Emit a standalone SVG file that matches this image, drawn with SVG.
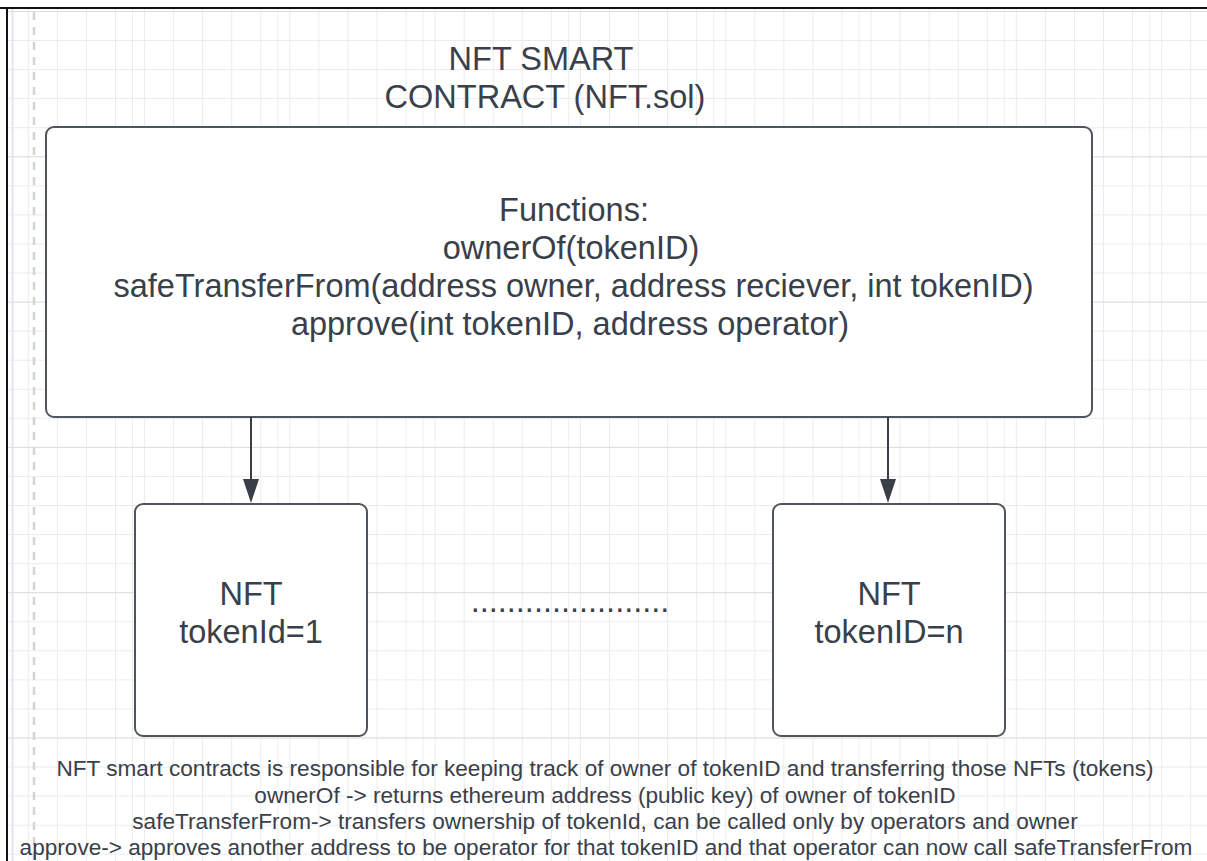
<svg xmlns="http://www.w3.org/2000/svg" width="1207" height="861" viewBox="0 0 1207 861">
<defs>
<pattern id="grid" x="-1.25" y="11" width="29.06" height="29.06" patternUnits="userSpaceOnUse">
<path d="M0.5 0V29.06M0 0.5H29.06" fill="none" stroke="#ebebeb" stroke-width="1"/>
</pattern>
<pattern id="grid5" x="-12.3" y="11" width="145.3" height="145.3" patternUnits="userSpaceOnUse">
<path d="M145.3 0V145.3M0 0.5H145.3" fill="none" stroke="#dedede" stroke-width="1"/>
</pattern>
<style>
.t{font-family:"Liberation Sans",Arial,sans-serif;fill:#3a4049;text-anchor:middle}
.big{font-size:32.5px}
.small{font-size:22.6px}
.box{fill:#ffffff;stroke:#50555d;stroke-width:2}
.conn{stroke:#3a3f47;stroke-width:2;fill:none}
.head{fill:#3a3f47}
</style>
</defs>
<rect width="1207" height="861" fill="#ffffff"/>
<rect x="8" y="9" width="1199" height="852" fill="url(#grid)"/>
<rect x="8" y="9" width="1199" height="852" fill="url(#grid5)"/>
<line x1="12.5" y1="9" x2="12.5" y2="861" stroke="#e2e6ec" stroke-width="2"/>
<line x1="34" y1="12" x2="34" y2="861" stroke="#d3d3d3" stroke-width="2.5" stroke-dasharray="8 7"/>
<line x1="0" y1="8" x2="1207" y2="8" stroke="#111111" stroke-width="2"/>
<line x1="7" y1="8" x2="7" y2="861" stroke="#111111" stroke-width="2"/>

<g id="title">
<text class="t big" x="541" y="70">NFT SMART</text>
<text class="t big" x="545" y="108">CONTRACT (NFT.sol)</text>
</g>

<g id="contract">
<rect class="box" x="46" y="127" width="1046" height="290" rx="8"/>
<text class="t big" x="574" y="221">Functions:</text>
<text class="t big" x="571" y="259">ownerOf(tokenID)</text>
<text class="t big" x="573.5" y="297">safeTransferFrom(address owner, address reciever, int tokenID)</text>
<text class="t big" x="570" y="335">approve(int tokenID, address operator)</text>
</g>

<g id="connectors">
<line class="conn" x1="251" y1="417" x2="251" y2="482"/>
<path class="head" d="M243 479L259 479L251 503Z"/>
<line class="conn" x1="888" y1="417" x2="888" y2="482"/>
<path class="head" d="M880 479L896 479L888 503Z"/>
</g>

<g id="nft1">
<rect class="box" x="135" y="504" width="232" height="232" rx="8"/>
<text class="t big" x="251" y="605">NFT</text>
<text class="t big" x="251" y="643">tokenId=1</text>
</g>

<g id="dots">
<text class="t big" x="570" y="612">......................</text>
</g>

<g id="nftn">
<rect class="box" x="773" y="504" width="232" height="232" rx="8"/>
<text class="t big" x="889" y="605">NFT</text>
<text class="t big" x="889" y="643">tokenID=n</text>
</g>

<g id="notes">
<text class="t small" x="605" y="776">NFT smart contracts is responsible for keeping track of owner of tokenID and transferring those NFTs (tokens)</text>
<text class="t small" x="605" y="802.5">ownerOf -&gt; returns ethereum address (public key) of owner of tokenID</text>
<text class="t small" x="605" y="829">safeTransferFrom-&gt; transfers ownership of tokenId, can be called only by operators and owner</text>
<text class="t small" x="606" y="855">approve-&gt; approves another address to be operator for that tokenID and that operator can now call safeTransferFrom</text>
</g>
</svg>
